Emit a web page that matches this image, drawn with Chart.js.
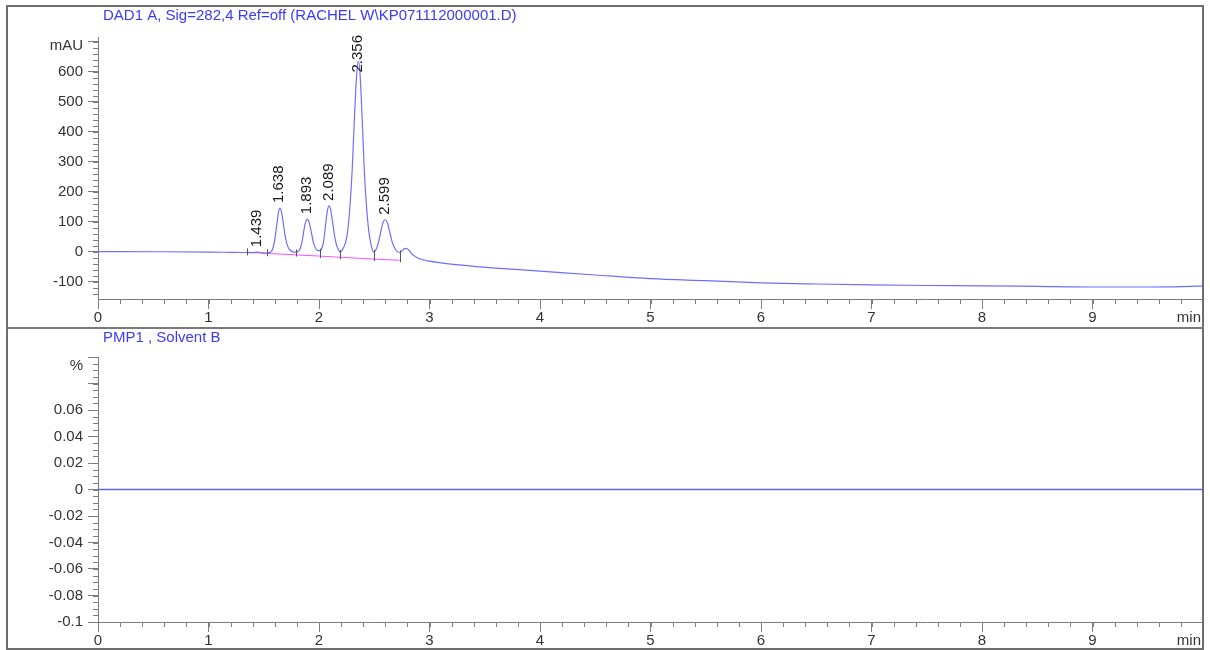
<!DOCTYPE html>
<html>
<head>
<meta charset="utf-8">
<title>DAD1 A / PMP1</title>
<script src="https://cdn.jsdelivr.net/npm/chart.js@4.4.1/dist/chart.umd.min.js"></script>
<style>
  body { margin: 0; background: #fff; }
  #wrap { position: relative; width: 1210px; height: 650px; overflow: hidden; }
  canvas { position: absolute; left: 0; }
  #sig { top: 0; }
  #pump { top: 328px; }
  .frame { position: absolute; left: 6px; top: 5px; width: 1198px; height: 645px; box-sizing: border-box; border: 2px solid #6e6e6e; }
  .split { position: absolute; left: 6px; top: 327px; width: 1198px; height: 2px; background: #7a7a7a; }
</style>
</head>
<body>
<div id="wrap">
  <canvas id="sig" width="1210" height="328"></canvas>
  <canvas id="pump" width="1210" height="322"></canvas>
  <div class="frame"></div>
  <div class="split"></div>
</div>
<script>
// DAD signal, min / mAU
const sigTimes = [
  0, 0.5, 1.0, 1.2, 1.3, 1.345, 1.4, 1.439, 1.48, 1.525,
  1.56, 1.58, 1.60, 1.62, 1.635, 1.646, 1.66, 1.675, 1.69, 1.71, 1.73, 1.76, 1.79,
  1.81, 1.83, 1.85, 1.87, 1.885, 1.895, 1.91, 1.93, 1.95, 1.97, 1.99, 2.007,
  2.02, 2.04, 2.06, 2.075, 2.091, 2.105, 2.12, 2.14, 2.16, 2.18, 2.194,
  2.21, 2.24, 2.26, 2.28, 2.30, 2.32, 2.34, 2.356, 2.37, 2.39, 2.41, 2.43, 2.45, 2.47, 2.495,
  2.51, 2.53, 2.55, 2.57, 2.585, 2.601, 2.62, 2.64, 2.66, 2.68, 2.70, 2.73,
  2.75, 2.77, 2.79, 2.81, 2.84, 2.87, 2.91, 3.0, 3.2, 3.4, 3.6, 4.0, 4.5,
  5.0, 5.5, 6.0, 6.5, 7.0, 7.5, 8.0, 8.5, 9.0, 9.5, 9.8, 10.0
];
const sigValues = [
  0, -0.5, -1.5, -2.5, -3, -3, -3.5, -2, -4, -5,
  -2, 8, 40, 95, 135, 145, 133, 100, 60, 25, 8, 0, -2,
  0, 10, 40, 85, 104, 108, 98, 65, 30, 10, 3, 3,
  6, 30, 90, 135, 152, 140, 105, 55, 20, 4, -2,
  5, 30, 70, 150, 270, 440, 585, 635, 600, 450, 270, 150, 70, 25, -2,
  3, 20, 50, 85, 102, 106, 95, 65, 35, 15, 3, -3,
  2, 9, 11, 6, -8, -16, -24, -32, -42, -49, -55, -65, -78,
  -90, -97, -104, -108, -111, -113, -114, -116, -118, -118, -117, -114
];

// integration events
const peakTimes = [1.439, 1.638, 1.893, 2.089, 2.356, 2.599];
const peakHeights = [-2, 145, 108, 152, 635, 106];
const dropTimes = [1.345, 1.525, 1.791, 2.007, 2.194, 2.498, 2.73];
const dropCurve = [-3, -5, -2, 3, -2, -2, -3];
const dropBase = [-2, -6, -11, -15, -19, -25, -29];

// pump channel, solvent B %
const pumpTimes = [0, 2, 4, 6, 8, 10];
const pumpValues = [0, 0, 0, 0, 0, 0];

const sigTicks = [-100, 0, 100, 200, 300, 400, 500, 600, 700];
const pumpTicks = [-0.1, -0.08, -0.06, -0.04, -0.02, 0, 0.02, 0.04, 0.06, 0.08, 0.1];

const AXIS = '#7d7d7d';
const TEXT = '#333333';
const BLUE = '#3a3aff';
const TRACE = '#6f6fff';
const FONT = "'Liberation Sans', Arial, sans-serif";

function decor(p) {
  return {
    id: 'decor',
    afterDatasetsDraw(chart) {
      if (!p.drops) return;
      const ctx = chart.ctx, xs = chart.scales.x, ys = chart.scales.y;
      ctx.save();
      ctx.strokeStyle = '#555';
      ctx.lineWidth = 1;
      ctx.beginPath();
      dropTimes.forEach((t, i) => {
        const px = Math.round(xs.getPixelForValue(t)) + 0.5;
        let y1 = ys.getPixelForValue(dropCurve[i]) - 2;
        let y2 = ys.getPixelForValue(dropBase[i]) + 2;
        if (y2 - y1 < 7) { y1 = (y1 + y2) / 2 - 4; y2 = y1 + 7; }
        ctx.moveTo(px, y1);
        ctx.lineTo(px, y2);
      });
      ctx.stroke();

      // retention time labels
      ctx.fillStyle = '#1a1a1a';
      ctx.font = '15px ' + FONT;
      ctx.textAlign = 'left';
      ctx.textBaseline = 'middle';
      const top = chart.chartArea.top;
      peakTimes.forEach((t, i) => {
        const txt = t.toFixed(3);
        const w = ctx.measureText(txt).width;
        let y = ys.getPixelForValue(peakHeights[i]) - 5;
        if (y - w < top - 2) y = top - 2 + w;
        ctx.save();
        ctx.translate(xs.getPixelForValue(t), y);
        ctx.rotate(-Math.PI / 2);
        ctx.fillText(txt, 0, 0);
        ctx.restore();
      });
      ctx.restore();
    },
    afterDraw(chart) {
      const ctx = chart.ctx, xs = chart.scales.x, ys = chart.scales.y, a = chart.chartArea;
      ctx.save();
      ctx.strokeStyle = AXIS;
      ctx.lineWidth = 1;
      ctx.beginPath();
      // minor ticks
      for (let k = 0; k <= 50; k++) {
        const px = Math.round(xs.getPixelForValue(k * 0.2)) + 0.5;
        ctx.moveTo(px, a.bottom);
        ctx.lineTo(px, a.bottom + 5);
      }
      const k0 = Math.ceil(p.yMin / p.minor - 1e-6), k1 = Math.floor(p.yMax / p.minor + 1e-6);
      for (let k = k0; k <= k1; k++) {
        const py = Math.round(ys.getPixelForValue(k * p.minor)) + 0.5;
        ctx.moveTo(a.left, py);
        ctx.lineTo(a.left - 5, py);
      }
      ctx.stroke();

      ctx.font = '15px ' + FONT;
      ctx.textBaseline = 'middle';
      ctx.fillStyle = TEXT;
      ctx.textAlign = 'right';
      ctx.fillText(p.unit, a.left - 15, a.top + 8.5);
      ctx.fillText('min', a.right - 2, a.bottom + 19);

      ctx.fillStyle = BLUE;
      ctx.textAlign = 'left';
      ctx.fillText(p.title, 103, p.titleY);
      ctx.restore();
    }
  };
}

function options(p) {
  const font = { family: FONT, size: 15 };
  return {
    responsive: false,
    animation: false,
    layout: { padding: { top: p.padTop, right: 7, left: 0, bottom: 0 } },
    plugins: { legend: { display: false }, tooltip: { enabled: false } },
    elements: { point: { radius: 0 } },
    scales: {
      x: {
        type: 'linear', min: 0, max: 10,
        border: { color: AXIS },
        grid: { drawOnChartArea: false, tickLength: 10, tickColor: AXIS },
        ticks: { stepSize: 1, autoSkip: false, maxRotation: 0, padding: 0, color: TEXT, font,
                 callback: v => v === 10 ? '' : v },
        afterFit: s => { s.height = p.xHeight; }
      },
      y: {
        type: 'linear', min: p.yMin, max: p.yMax,
        border: { color: AXIS },
        grid: { drawOnChartArea: false, tickLength: 10, tickColor: AXIS },
        ticks: { padding: 5, color: TEXT, font,
                 callback: v => p.hide.includes(v) ? '' : String(v) },
        afterBuildTicks: s => { s.ticks = p.ticks.map(v => ({ value: v })); },
        afterFit: s => { s.width = 98; }
      }
    }
  };
}

const sigPanel = {
  title: 'DAD1 A, Sig=282,4 Ref=off (RACHEL W\\KP071112000001.D)', titleY: 16,
  unit: 'mAU', yMin: -158, yMax: 715, minor: 20, ticks: sigTicks, hide: [700],
  padTop: 37, xHeight: 29, drops: true
};
const pumpPanel = {
  title: 'PMP1 , Solvent B', titleY: 10,
  unit: '%', yMin: -0.1, yMax: 0.1, minor: 0.005, ticks: pumpTicks, hide: [0.08, 0.1],
  padTop: 29, xHeight: 28, drops: false
};

new Chart(document.getElementById('sig'), {
  type: 'line',
  data: {
    datasets: [
      {
        data: sigTimes.map((t, i) => ({ x: t, y: sigValues[i] })),
        borderColor: TRACE, borderWidth: 1.2, cubicInterpolationMode: 'monotone'
      },
      {
        data: dropTimes.map((t, i) => ({ x: t, y: dropBase[i] })),
        borderColor: '#ff4dff', borderWidth: 1
      }
    ]
  },
  options: options(sigPanel),
  plugins: [decor(sigPanel)]
});

new Chart(document.getElementById('pump'), {
  type: 'line',
  data: {
    datasets: [{
      data: pumpTimes.map((t, i) => ({ x: t, y: pumpValues[i] })),
      borderColor: '#6262ff', borderWidth: 1.6
    }]
  },
  options: options(pumpPanel),
  plugins: [decor(pumpPanel)]
});
</script>
</body>
</html>
